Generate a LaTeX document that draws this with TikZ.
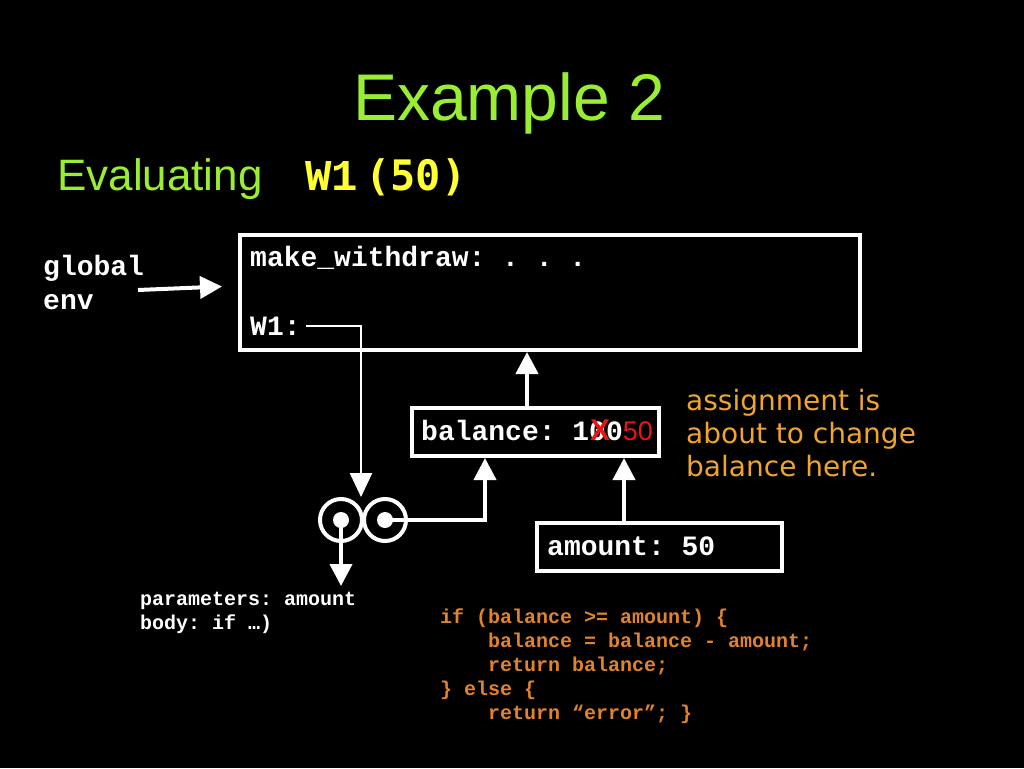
\documentclass[tikz,border=0pt]{standalone}
\usepackage{fontspec}
\setmainfont{Liberation Sans}
\newfontfamily\courfont{Liberation Mono}
\newfontfamily\notefont{DejaVu Sans}
\newfontfamily\dvmono{DejaVu Sans Mono}
\usetikzlibrary{arrows.meta}
\definecolor{titlegreen}{RGB}{153,238,51}
\definecolor{callyellow}{RGB}{255,255,51}
\definecolor{noteorange}{RGB}{240,164,48}
\definecolor{codeorange}{RGB}{226,130,42}
\definecolor{crossred}{RGB}{235,20,20}
\frenchspacing

\begin{document}
\begin{tikzpicture}[x=1pt,y=-1pt]
		\tikzstyle{every node}=[inner sep=0pt, text=white]
		\tikzstyle{frame}=[draw=white, line width=4pt, rectangle]
		\tikzstyle{env}=[font={\courfont\bfseries\fontsize{28}{34}\selectfont}, anchor=base west]
		\tikzstyle{small}=[font={\courfont\bfseries\fontsize{20}{24}\selectfont}, anchor=base west, align=left]
		\tikzstyle{arr}=[white, line width=4pt, -{Triangle[width=22pt,length=22pt]}]
		\tikzstyle{ptr}=[white, line width=2.5pt, -{Triangle[width=22pt,length=24pt]}]
		\tikzstyle{ring}=[circle, draw=white, line width=4pt, minimum size=42pt]
		\tikzstyle{dot}=[circle, fill=white, minimum size=16pt]
		\fill[black] (0,0) rectangle (1024,768);
		% titles
		\node[text=titlegreen, anchor=base, font=\fontsize{66}{70}\selectfont] (title) at (509,120) {Example 2};
		\node[text=titlegreen, anchor=base west, font=\fontsize{44}{50}\selectfont] (eval) at (57,190) {Evaluating};
		\node[text=callyellow, anchor=base west, font={\courfont\bfseries\fontsize{44}{50}\selectfont}] (call) at (305,190) {W1\,{\dvmono\fontsize{42}{50}\selectfont(50)}};
		% global environment (base = last line)
		\node[env, align=left] (glob) at (43,309) {global\\env};
		\node[frame, minimum width=620pt, minimum height=115pt] (genv) at (550,292.5) {};
		\node[env] (mw) at (250,266) {make\_withdraw: . . .};
		\node[env] (w1) at (250,335) {W1:};
		% new frame and its parent
		\node[frame, minimum width=247pt, minimum height=48pt] (bal) at (535.5,432) {};
		\node[env] (baltext) at (421,440) {balance: 10\llap{\textcolor{crossred}{\rmfamily\bfseries\fontsize{30}{30}\selectfont X}\kern-4pt}0\textcolor{crossred}{\rmfamily\mdseries\fontsize{27}{30}\selectfont 50}};
		\node[frame, minimum width=245pt, minimum height=48pt] (amt) at (659.5,547) {};
		\node[env] (amttext) at (547,555) {amount: 50};
		% procedure object
		\node[ring] (cl) at (341,520) {};
		\node[ring] (cr) at (385,520) {};
		\node[dot] (dl) at (341,520) {};
		\node[dot] (dr) at (385,520) {};
		\node[small] (params) at (140,629) {parameters: amount\\body: if …)};
		\coordinate (pdown) at (341,586);
		\coordinate (gtail) at (138,290);
		% notes
		\node[text=noteorange, anchor=base west, align=left, font={\notefont\fontsize{28}{33}\selectfont}] (note) at (686,476) {assignment is\\about to change\\balance here.};
		\node[small, text=codeorange] (code) at (440,719) {if (balance >= amount) \{\\
			\hphantom{xxxx}balance = balance - amount;\\
			\hphantom{xxxx}return balance;\\
			\} else \{\\
			\hphantom{xxxx}return “error”; \}};
		% connectors
		\draw[arr] (gtail) -- ([xshift=-16pt,yshift=6pt]genv.west);
		\draw[ptr] ([xshift=5pt]w1.east) -| ([xshift=20pt]cl.north);
		\draw[arr] ([xshift=-8.5pt]bal.north) -- ([xshift=-8.5pt]bal.north |- genv.south);
		\draw[arr] (dr.center) -| ([xshift=-50.5pt]bal.south);
		\draw[arr] ([xshift=-35.5pt]amt.north) -- ([xshift=-35.5pt]amt.north |- bal.south);
		\draw[arr] (dl.center) -- (pdown);
\end{tikzpicture}
\end{document}
